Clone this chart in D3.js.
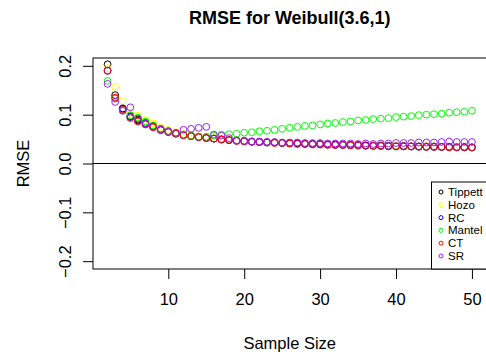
<!DOCTYPE html>
<html>
<head>
<meta charset="utf-8">
<script src="https://cdn.jsdelivr.net/npm/d3@7/dist/d3.min.js"></script>
<style>
  html, body { margin: 0; padding: 0; background: #fff; }
  svg { display: block; font-family: "Liberation Sans", Arial, Helvetica, sans-serif; }
</style>
</head>
<body>
<svg id="chart" width="486" height="358"></svg>
<script>
// Sample sizes 2..50
const sampleSizes = d3.range(2, 51);

// RMSE of each estimator
const tippett = [0.203, 0.140, 0.112, 0.097, 0.090, 0.083, 0.077, 0.071, 0.066, 0.062,
  0.059, 0.057, 0.055, 0.053, 0.051, 0.050, 0.048, 0.047, 0.046,
  0.045, 0.044, 0.044, 0.043, 0.042, 0.042, 0.041, 0.041, 0.040, 0.040,
  0.039, 0.039, 0.038, 0.038, 0.038, 0.037, 0.037, 0.037, 0.036, 0.036,
  0.036, 0.035, 0.035, 0.035, 0.035, 0.034, 0.034, 0.034, 0.034, 0.033];
const hozo = [0.195, 0.157, 0.128, 0.104, 0.098, 0.089, 0.082, 0.074, 0.069, 0.064,
  0.060, 0.058, 0.056, 0.054, 0.052, 0.050, 0.049, 0.047, 0.046,
  0.045, 0.044, 0.043, 0.043, 0.042, 0.041, 0.041, 0.040, 0.040, 0.039,
  0.039, 0.038, 0.038, 0.038, 0.037, 0.037, 0.037, 0.036, 0.036, 0.036,
  0.035, 0.035, 0.035, 0.035, 0.034, 0.034, 0.034, 0.034, 0.033, 0.033];
const rc = [0.190, 0.133, 0.113, 0.095, 0.088, 0.081, 0.075, 0.069, 0.065, 0.061,
  0.058, 0.056, 0.054, 0.052, 0.051, 0.049, 0.048, 0.047, 0.046,
  0.045, 0.044, 0.043, 0.043, 0.042, 0.041, 0.041, 0.040, 0.040, 0.039,
  0.039, 0.038, 0.038, 0.038, 0.037, 0.037, 0.036, 0.036, 0.036, 0.035,
  0.035, 0.035, 0.035, 0.034, 0.034, 0.034, 0.034, 0.033, 0.033, 0.033];
const mantel = [0.169, 0.133, 0.108, 0.099, 0.094, 0.086, 0.078, 0.071, 0.066, 0.062,
  0.059, 0.057, 0.055, 0.055, 0.057, 0.059, 0.060, 0.061, 0.063,
  0.064, 0.066, 0.067, 0.069, 0.071, 0.073, 0.075, 0.077, 0.078, 0.080,
  0.082, 0.083, 0.085, 0.086, 0.088, 0.089, 0.091, 0.092, 0.093, 0.095,
  0.096, 0.097, 0.099, 0.100, 0.101, 0.102, 0.104, 0.105, 0.106, 0.108];
const ct = [0.190, 0.135, 0.110, 0.093, 0.086, 0.080, 0.074, 0.068, 0.064, 0.061,
  0.058, 0.056, 0.054, 0.052, 0.051, 0.049, 0.048, 0.046, 0.045,
  0.044, 0.044, 0.043, 0.042, 0.042, 0.041, 0.040, 0.040, 0.039, 0.039,
  0.038, 0.038, 0.038, 0.037, 0.037, 0.036, 0.036, 0.036, 0.035, 0.035,
  0.035, 0.035, 0.034, 0.034, 0.034, 0.034, 0.033, 0.033, 0.033, 0.033];
const sr = [0.163, 0.126, 0.108, 0.115, 0.092, 0.082, 0.076, 0.070, 0.066, 0.063,
  0.069, 0.071, 0.073, 0.075, 0.059, 0.057, 0.052, 0.047, 0.046,
  0.045, 0.045, 0.044, 0.044, 0.043, 0.043, 0.043, 0.042, 0.042, 0.042,
  0.041, 0.041, 0.041, 0.041, 0.040, 0.041, 0.040, 0.041, 0.041, 0.042,
  0.042, 0.042, 0.043, 0.043, 0.043, 0.044, 0.045, 0.044, 0.044, 0.044];

const seriesNames = ["Tippett", "Hozo", "RC", "Mantel", "CT", "SR"];
const seriesValues = [tippett, hozo, rc, mantel, ct, sr];
const seriesColors = ["#000000", "#ffff00", "#0000ff", "#00ff00", "#ff0000", "#a020f0"];

const xTicks = [10, 20, 30, 40, 50];
const yTicks = [-0.2, -0.1, 0.0, 0.1, 0.2];

const svg = d3.select("#chart");
const plot = { left: 93, right: 486.5, top: 58, bottom: 269 };

// Axis limits padded by 4% of the data range on each side
const xPad = (50 - 2) * 0.04, yPad = 0.4 * 0.04;
const x = d3.scaleLinear().domain([2 - xPad, 50 + xPad]).range([plot.left, plot.right]);
const y = d3.scaleLinear().domain([-0.2 - yPad, 0.2 + yPad]).range([plot.bottom, plot.top]);

svg.append("clipPath").attr("id", "plotclip")
  .append("rect")
  .attr("x", plot.left).attr("y", plot.top)
  .attr("width", plot.right - plot.left).attr("height", plot.bottom - plot.top);

// Title
svg.append("text")
  .attr("x", (plot.left + plot.right) / 2).attr("y", 24)
  .attr("text-anchor", "middle")
  .attr("font-size", 18).attr("font-weight", "bold")
  .text("RMSE for Weibull(3.6,1)");

// X axis
const xAxis = d3.axisBottom(x).tickValues(xTicks).tickSize(10).tickPadding(14)
  .tickFormat(d3.format("d"));
svg.append("g")
  .attr("transform", `translate(0,${plot.bottom})`)
  .call(xAxis)
  .call(g => g.select(".domain").remove())
  .call(g => g.selectAll("text").attr("font-size", 16.5).attr("font-family", null).attr("fill", "#000"))
  .call(g => g.selectAll("line").attr("stroke", "#000"));

// Y axis with labels parallel to the axis
const yAxis = d3.axisLeft(y).tickValues(yTicks).tickSize(10).tickFormat(d3.format(".1f"));
const yg = svg.append("g")
  .attr("transform", `translate(${plot.left},0)`)
  .call(yAxis)
  .call(g => g.select(".domain").remove())
  .call(g => g.selectAll("line").attr("stroke", "#000"));
yg.selectAll(".tick text")
  .attr("font-size", 16.5).attr("font-family", null).attr("fill", "#000")
  .attr("x", null)
  .attr("text-anchor", "middle")
  .attr("transform", "translate(-28,0) rotate(-90)")
  .attr("dy", "0.35em");

// Axis titles
svg.append("text")
  .attr("x", (plot.left + plot.right) / 2).attr("y", 349)
  .attr("text-anchor", "middle").attr("font-size", 16.5)
  .text("Sample Size");
svg.append("text")
  .attr("transform", `translate(29,${(plot.top + plot.bottom) / 2}) rotate(-90)`)
  .attr("text-anchor", "middle").attr("font-size", 16.5)
  .text("RMSE");

// Reference line at zero
svg.append("line")
  .attr("x1", plot.left).attr("x2", plot.right)
  .attr("y1", y(0)).attr("y2", y(0))
  .attr("stroke", "#000").attr("stroke-width", 1);

// Points for each estimator
const pts = svg.append("g").attr("clip-path", "url(#plotclip)");
seriesValues.forEach((vals, i) => {
  pts.append("g")
    .selectAll("circle")
    .data(vals.map((v, j) => [sampleSizes[j], v]))
    .join("circle")
    .attr("cx", d => x(d[0]))
    .attr("cy", d => y(d[1]))
    .attr("r", 3.4)
    .attr("fill", "none")
    .attr("stroke", seriesColors[i])
    .attr("stroke-width", 1);
});

// Plot frame
svg.append("rect")
  .attr("x", plot.left).attr("y", plot.top)
  .attr("width", plot.right - plot.left).attr("height", plot.bottom - plot.top)
  .attr("fill", "none").attr("stroke", "#000").attr("stroke-width", 1);

// Legend in the bottom-right corner
const legend = svg.append("g");
const lgLeft = 431.5, lgTop = 182;
legend.append("rect")
  .attr("x", lgLeft).attr("y", lgTop)
  .attr("width", plot.right - lgLeft).attr("height", plot.bottom - lgTop)
  .attr("fill", "#fff").attr("stroke", "#000").attr("stroke-width", 1);
const ly = d3.scalePoint().domain(seriesNames).range([192, 256]);
seriesNames.forEach((name, i) => {
  legend.append("circle")
    .attr("cx", 441).attr("cy", ly(name)).attr("r", 2)
    .attr("fill", "none").attr("stroke", seriesColors[i]).attr("stroke-width", 1);
  legend.append("text")
    .attr("x", 448).attr("y", ly(name)).attr("dy", "0.35em")
    .attr("font-size", 11.5).attr("fill", "#000")
    .text(name);
});
</script>
</body>
</html>
